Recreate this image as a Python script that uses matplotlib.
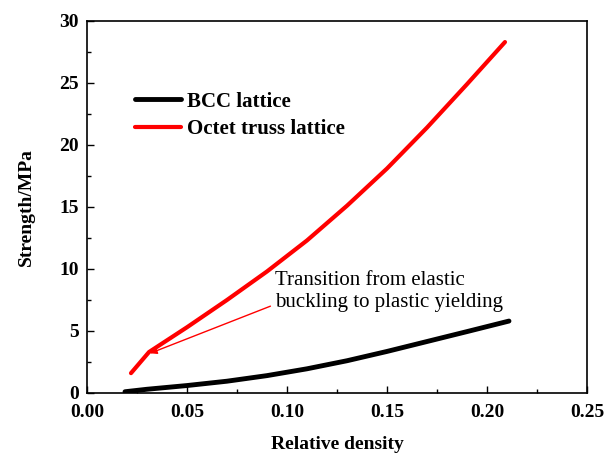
import numpy as np
import matplotlib.pyplot as plt
from matplotlib.ticker import MultipleLocator

# data
bcc_x = [0.019, 0.03, 0.05, 0.07, 0.09, 0.11, 0.13, 0.15, 0.17, 0.19, 0.211]
bcc_y = [0.1, 0.3, 0.6, 0.95, 1.4, 1.95, 2.6, 3.35, 4.15, 4.95, 5.8]
oct_x = [0.022, 0.031, 0.05, 0.07, 0.09, 0.11, 0.13, 0.15, 0.17, 0.19, 0.209]
oct_y = [1.6, 3.3, 5.3, 7.5, 9.8, 12.3, 15.1, 18.1, 21.4, 24.9, 28.3]

plt.rcParams['font.family'] = ['Liberation Serif', 'DejaVu Serif']

fig = plt.figure(figsize=(6.05, 4.55), dpi=100)
ax = fig.add_axes([0.1438, 0.1363, 0.8264, 0.8176])

ax.plot(bcc_x, bcc_y, '-', color='k', lw=3.5, label='BCC lattice', solid_capstyle='round')
ax.plot(oct_x, oct_y, '-', color='#ff0000', lw=3.0, label='Octet truss lattice', solid_capstyle='round')

ax.set_xlim(0, 0.25)
ax.set_ylim(0, 30)
ax.xaxis.set_major_locator(MultipleLocator(0.05))
ax.xaxis.set_minor_locator(MultipleLocator(0.025))
ax.yaxis.set_major_locator(MultipleLocator(5))
ax.yaxis.set_minor_locator(MultipleLocator(2.5))
ax.tick_params(which='both', direction='in', top=False, right=False)
ax.tick_params(which='major', length=5, width=1, labelsize=14)
ax.tick_params(axis='x', which='major', pad=8)
ax.tick_params(axis='y', which='major', pad=6)
ax.tick_params(which='minor', length=3, width=1)
ax.set_xticklabels(['%.2f' % v for v in ax.get_xticks()])
for t in ax.get_xticklabels() + ax.get_yticklabels():
    t.set_fontweight('bold')
for s in ax.spines.values():
    s.set_linewidth(1.2)

ax.set_xlabel('Relative density', fontsize=14, fontweight='bold', labelpad=11)
ax.set_ylabel('Strength/MPa', fontsize=14, fontweight='bold', labelpad=17)

leg = ax.legend(loc='upper left', bbox_to_anchor=(0.096, 0.81), frameon=False,
                prop={'size': 15, 'weight': 'bold'}, handlelength=2.2,
                handletextpad=0.3, labelspacing=0.35, borderpad=0,
                borderaxespad=0)

ax.annotate('Transition from elastic\nbuckling to plastic yielding',
            xy=(0.0315, 3.2), xytext=(0.094, 6.5), fontsize=15,
            linespacing=1.25, va='bottom', ha='left',
            arrowprops=dict(arrowstyle='-|>', color='#ff0000', lw=1,
                            shrinkA=0, shrinkB=0, mutation_scale=10,
                            relpos=(-0.02, 0.15)))

fig.savefig('out.png', dpi=100)
